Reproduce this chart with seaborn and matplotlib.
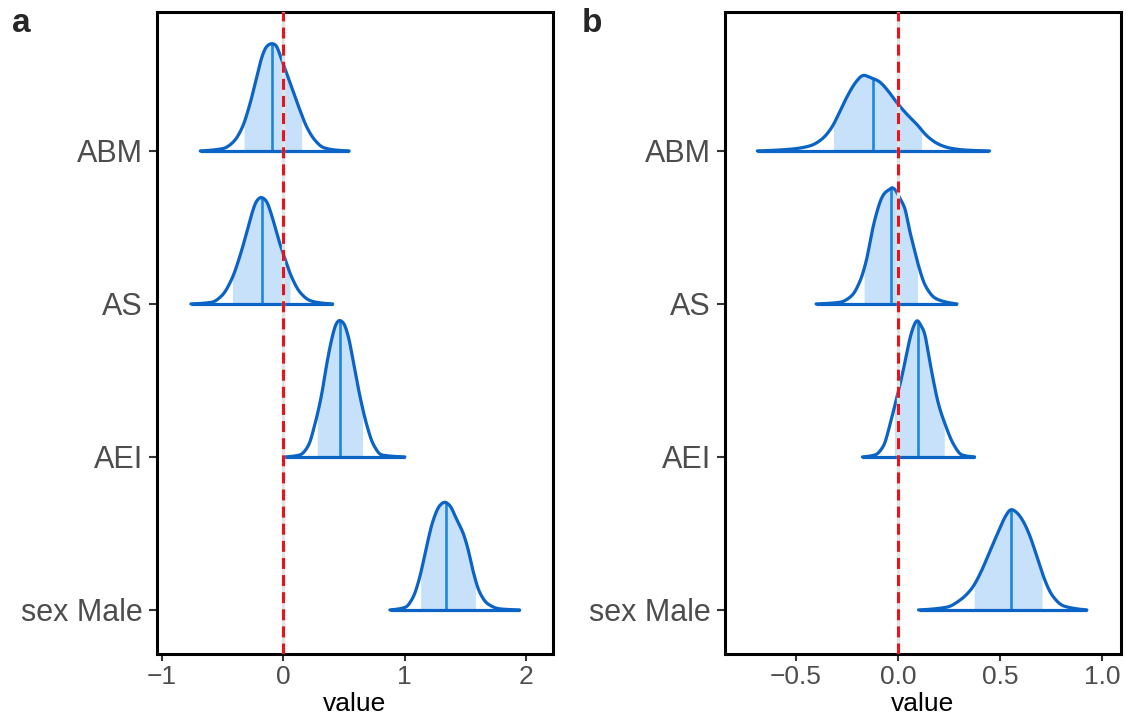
import numpy as np
import pandas as pd
import matplotlib
matplotlib.use("Agg")
import matplotlib.pyplot as plt
import seaborn as sns

# ---------------- data ----------------
CATEGORIES = ["ABM", "AS", "AEI", "sex Male"]
ROW_POS = [4, 3, 2, 1]

# panel a: density outlines (x value, height in row units)
A_ABM_X = [-0.684, -0.493, -0.411, -0.342, -0.274, -0.219, -0.177, -0.136, -0.095, -0.060, -0.027, 0.028, 0.082, 0.137, 0.192, 0.260, 0.329, 0.439, 0.542]
A_ABM_H = [0.0, 0.016, 0.059, 0.146, 0.309, 0.484, 0.614, 0.685, 0.702, 0.691, 0.626, 0.506, 0.386, 0.266, 0.157, 0.070, 0.022, 0.005, 0.0]
A_AS_X = [-0.761, -0.588, -0.506, -0.424, -0.356, -0.301, -0.260, -0.219, -0.183, -0.142, -0.095, -0.041, 0.014, 0.069, 0.137, 0.219, 0.302, 0.406]
A_AS_H = [0.0, 0.011, 0.054, 0.163, 0.316, 0.468, 0.588, 0.675, 0.697, 0.675, 0.577, 0.425, 0.294, 0.174, 0.076, 0.022, 0.007, 0.0]
A_AEI_X = [0.014, 0.137, 0.205, 0.260, 0.316, 0.357, 0.398, 0.433, 0.460, 0.493, 0.534, 0.575, 0.630, 0.685, 0.740, 0.809, 1.000]
A_AEI_H = [0.0, 0.013, 0.072, 0.214, 0.410, 0.606, 0.769, 0.867, 0.893, 0.878, 0.791, 0.627, 0.399, 0.214, 0.083, 0.013, 0.0]
A_SEX_X = [0.877, 1.005, 1.068, 1.123, 1.178, 1.233, 1.288, 1.329, 1.370, 1.425, 1.479, 1.520, 1.561, 1.616, 1.684, 1.781, 1.945]
A_SEX_H = [0.0, 0.017, 0.082, 0.214, 0.410, 0.585, 0.683, 0.705, 0.683, 0.595, 0.505, 0.400, 0.257, 0.115, 0.039, 0.007, 0.0]
A_LOW = [-0.323, -0.419, 0.279, 1.131]
A_HIGH = [0.151, 0.055, 0.652, 1.581]
A_MED = [-0.095, -0.177, 0.466, 1.343]

# panel b
B_ABM_X = [-0.687, -0.527, -0.429, -0.372, -0.323, -0.282, -0.242, -0.201, -0.168, -0.136, -0.095, -0.054, -0.005, 0.044, 0.093, 0.142, 0.199, 0.256, 0.338, 0.448]
B_ABM_H = [0.0, 0.011, 0.033, 0.076, 0.153, 0.262, 0.371, 0.458, 0.497, 0.480, 0.458, 0.403, 0.316, 0.240, 0.174, 0.098, 0.044, 0.018, 0.005, 0.0]
B_AS_X = [-0.400, -0.282, -0.225, -0.184, -0.152, -0.127, -0.103, -0.078, -0.057, -0.041, -0.029, -0.013, 0.011, 0.036, 0.052, 0.076, 0.101, 0.134, 0.183, 0.240, 0.289]
B_AS_H = [0.0, 0.011, 0.054, 0.152, 0.294, 0.468, 0.599, 0.697, 0.735, 0.747, 0.762, 0.747, 0.686, 0.621, 0.512, 0.381, 0.250, 0.120, 0.037, 0.011, 0.0]
B_AEI_X = [-0.173, -0.111, -0.070, -0.038, -0.013, 0.011, 0.036, 0.060, 0.081, 0.094, 0.114, 0.130, 0.150, 0.174, 0.199, 0.231, 0.272, 0.313, 0.375]
B_AEI_H = [0.0, 0.013, 0.072, 0.214, 0.345, 0.475, 0.627, 0.780, 0.867, 0.893, 0.856, 0.813, 0.671, 0.497, 0.344, 0.214, 0.083, 0.013, 0.0]
B_SEX_X = [0.101, 0.240, 0.305, 0.362, 0.411, 0.452, 0.492, 0.525, 0.554, 0.582, 0.614, 0.647, 0.680, 0.712, 0.753, 0.810, 0.924]
B_SEX_H = [0.0, 0.018, 0.065, 0.141, 0.261, 0.392, 0.512, 0.610, 0.658, 0.636, 0.577, 0.479, 0.348, 0.218, 0.098, 0.026, 0.0]
B_LOW = [-0.315, -0.165, -0.017, 0.373]
B_HIGH = [0.116, 0.096, 0.227, 0.705]
B_MED = [-0.121, -0.033, 0.098, 0.554]

A_XTICKS = [-1, 0, 1, 2]
A_XTICKLABELS = ["\u22121", "0", "1", "2"]
B_XTICKS = [-0.5, 0.0, 0.5, 1.0]
B_XTICKLABELS = ["\u22120.5", "0.0", "0.5", "1.0"]
PANEL_LABELS = ["a", "b"]
X_LABEL = "value"

# ---------------- styling ----------------
OUTLINE = "#0B63C6"
FILL = "#C8E1FA"
MEDIAN = "#1F86E0"
TEXT_GREY = "#4D4D4D"

sns.set_style("white")
plt.rcParams["font.family"] = ["Liberation Sans", "DejaVu Sans"]


def pchip(x, y, xn):
    x = np.asarray(x, float); y = np.asarray(y, float)
    h = np.diff(x); d = np.diff(y) / h
    m = np.zeros_like(y)
    for k in range(1, len(x) - 1):
        if d[k - 1] * d[k] > 0:
            w1 = 2 * h[k] + h[k - 1]; w2 = h[k] + 2 * h[k - 1]
            m[k] = (w1 + w2) / (w1 / d[k - 1] + w2 / d[k])
    m[0] = d[0] * 0.5; m[-1] = d[-1] * 0.5
    idx = np.clip(np.searchsorted(x, xn) - 1, 0, len(x) - 2)
    t = (xn - x[idx]) / h[idx]
    h00 = 2 * t**3 - 3 * t**2 + 1; h10 = t**3 - 2 * t**2 + t
    h01 = -2 * t**3 + 3 * t**2; h11 = t**3 - t**2
    return h00 * y[idx] + h10 * h[idx] * m[idx] + h01 * y[idx + 1] + h11 * h[idx] * m[idx + 1]


def smooth_curve(cx, chh, n=600, sigma=5):
    """Dense, lightly smoothed rendering of the read outline points."""
    xs = np.linspace(cx[0], cx[-1], n)
    hs = np.clip(pchip(cx, chh, xs), 0, None)
    k = np.arange(-4 * sigma, 4 * sigma + 1)
    ker = np.exp(-0.5 * (k / sigma) ** 2); ker /= ker.sum()
    padded = np.concatenate([np.zeros(4 * sigma), hs, np.zeros(4 * sigma)])
    hs = np.convolve(padded, ker, mode="same")[4 * sigma:-4 * sigma]
    hs[0] = 0; hs[-1] = 0
    return xs, hs


W, H = 1135, 717
fig = plt.figure(figsize=(W / 100, H / 100), dpi=100)
ax_a = fig.add_axes([157 / W, 1 - 654 / H, (553 - 157) / W, (654 - 12) / H])
ax_b = fig.add_axes([725 / W, 1 - 654 / H, (1121 - 725) / W, (654 - 12) / H])

panels = [
    (ax_a, [(A_ABM_X, A_ABM_H), (A_AS_X, A_AS_H), (A_AEI_X, A_AEI_H), (A_SEX_X, A_SEX_H)],
     A_LOW, A_HIGH, A_MED, A_XTICKS, A_XTICKLABELS, (-1.04, 2.22)),
    (ax_b, [(B_ABM_X, B_ABM_H), (B_AS_X, B_AS_H), (B_AEI_X, B_AEI_H), (B_SEX_X, B_SEX_H)],
     B_LOW, B_HIGH, B_MED, B_XTICKS, B_XTICKLABELS, (-0.845, 1.091)),
]

for ax, curves, lows, highs, meds, xt, xtl, xlim in panels:
    for (cx, chh), y0, lo, hi, md in zip(curves, ROW_POS, lows, highs, meds):
        xs, hs = smooth_curve(cx, chh)
        # inner interval fill
        xi = np.linspace(lo, hi, 200)
        hi_vals = np.interp(xi, xs, hs)
        ax.fill_between(xi, y0, y0 + hi_vals, color=FILL, lw=0, zorder=1)
        # median line
        hm = float(np.interp(md, xs, hs))
        ax.plot([md, md], [y0, y0 + hm], color=MEDIAN, lw=1.9, zorder=2, solid_capstyle="butt")
        # outline curve
        df = pd.DataFrame({"x": xs, "y": y0 + hs})
        sns.lineplot(data=df, x="x", y="y", sort=False, color=OUTLINE, lw=2.3, ax=ax, zorder=3)
        ax.plot([cx[0], cx[-1]], [y0, y0], color=OUTLINE, lw=2.3, zorder=3, solid_capstyle="butt")
    # zero reference lines
    ax.axvline(0, color="#E3E3E3", lw=2.4, zorder=4)
    ax.axvline(0, color="#E8141B", lw=2.2, dashes=(3.6, 2.0), zorder=5)

    ax.set_xlim(*xlim)
    ax.set_ylim(0.712, 4.908)
    ax.set_xticks(xt)
    ax.set_xticklabels(xtl)
    ax.set_yticks(ROW_POS)
    ax.set_yticklabels(CATEGORIES)
    ax.set_xlabel(X_LABEL, fontsize=19, color="black", labelpad=2)
    ax.set_ylabel("")
    ax.tick_params(axis="y", labelsize=22, labelcolor=TEXT_GREY, length=6, width=1.5,
                   color="#333333", pad=4, left=True)
    ax.tick_params(axis="x", labelsize=19, labelcolor=TEXT_GREY, length=5, width=1.5,
                   color="#333333", pad=3, bottom=True)
    for sp in ax.spines.values():
        sp.set_visible(True)
        sp.set_color("black")
        sp.set_linewidth(2.2)
    ax.grid(False)

fig.text(12 / W, 1 - 24 / H, PANEL_LABELS[0], fontsize=24, fontweight="bold", va="center", ha="left")
fig.text(582 / W, 1 - 24 / H, PANEL_LABELS[1], fontsize=24, fontweight="bold", va="center", ha="left")

fig.savefig("out.png", dpi=100, facecolor="white")
